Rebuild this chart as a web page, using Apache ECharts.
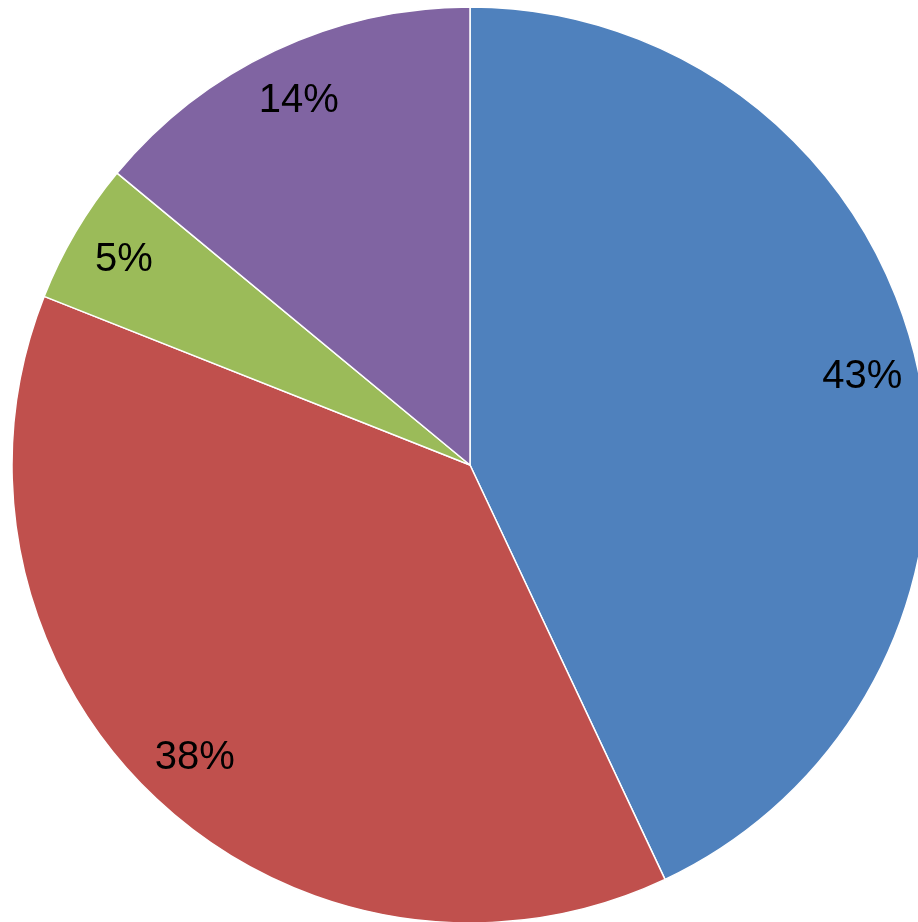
<!DOCTYPE html>
<html>
<head>
<meta charset="utf-8">
<script src="https://cdn.jsdelivr.net/npm/echarts@6/dist/echarts.min.js"></script>
<style>
  html, body { margin: 0; padding: 0; background: #ffffff; }
  #chart { width: 918px; height: 922px; }
</style>
</head>
<body>
<div id="chart"></div>
<script>
// slice data, clockwise from 12 o'clock
const sliceNames = ['A', 'B', 'C', 'D'];
const sliceValues = [43, 38, 5, 14];
const sliceColors = ['#4F81BD', '#C0504D', '#9BBB59', '#8064A2'];

const chartDom = document.getElementById('chart');
const myChart = echarts.init(chartDom);

const pieData = sliceNames.map((name, i) => ({
    name: name,
    value: sliceValues[i],
    itemStyle: { color: sliceColors[i] }
}));

// label ring: transparent copy of the pie so labels sit near the rim
const labelData = sliceNames.map((name, i) => ({
    name: name,
    value: sliceValues[i],
    itemStyle: { color: 'transparent', borderWidth: 0 }
}));

const option = {
    animation: false,
    series: [
        {
            type: 'pie',
            center: [470, 465],
            radius: [0, 458],
            startAngle: 90,
            clockwise: true,
            silent: true,
            label: { show: false },
            labelLine: { show: false },
            itemStyle: { borderColor: '#ffffff', borderWidth: 1.5 },
            data: pieData
        },
        {
            type: 'pie',
            center: [470, 465],
            radius: [340, 458],
            startAngle: 90,
            clockwise: true,
            silent: true,
            label: {
                show: true,
                position: 'inside',
                formatter: '{d}%',
                color: '#000000',
                fontSize: 40,
                fontFamily: 'Liberation Sans'
            },
            labelLine: { show: false },
            data: labelData
        }
    ]
};

option.series[1].label.formatter = function (p) {
    return Math.round(p.percent) + '%';
};

myChart.setOption(option);
</script>
</body>
</html>
